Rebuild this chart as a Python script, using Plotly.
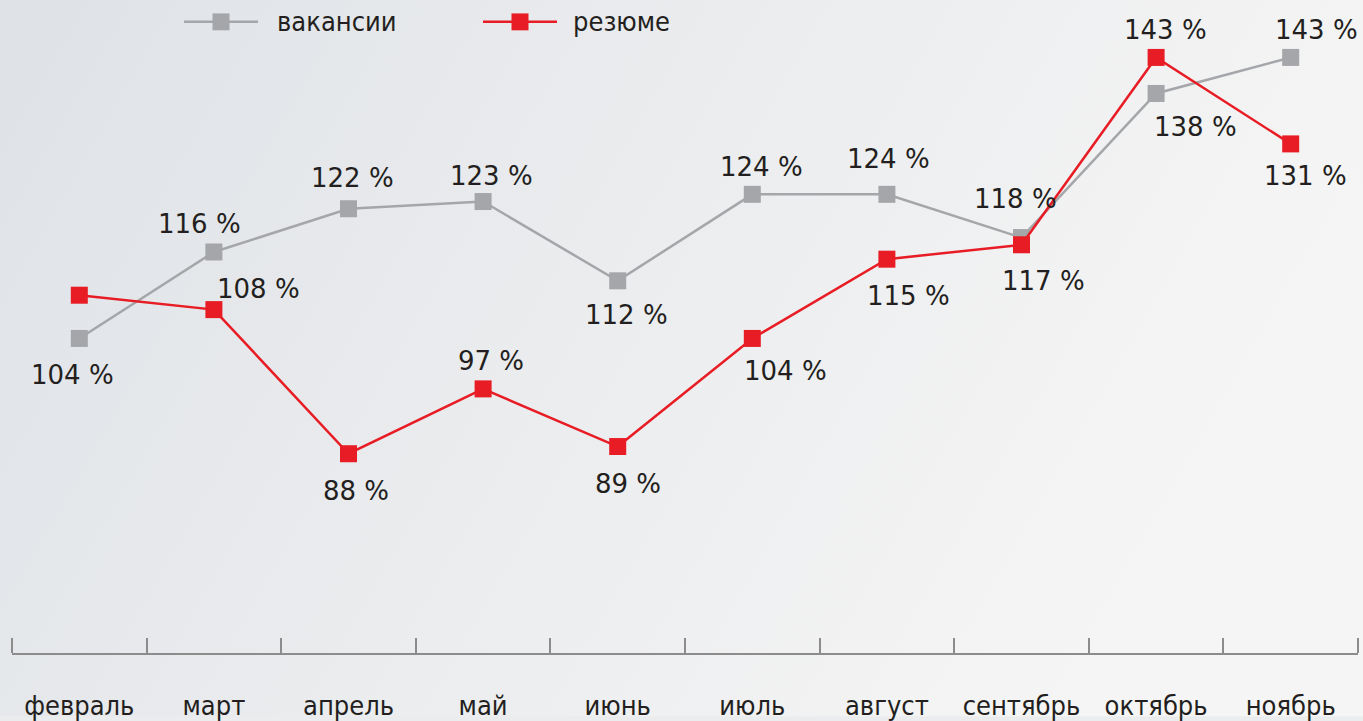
import base64
import plotly.graph_objects as go

months = ["февраль", "март", "апрель", "май", "июнь", "июль", "август", "сентябрь", "октябрь", "ноябрь"]
vacancies = [104, 116, 122, 123, 112, 124, 124, 118, 138, 143]
resumes = [110, 108, 88, 97, 89, 104, 115, 117, 143, 131]
show_resume_label = [False, True, True, True, True, True, True, True, True, True]
series_names = ["вакансии", "резюме"]

# label offsets (pixels) relative to points: (xshift, yshift)
vac_offsets = [(-7, -37), (-14, 28), (4, 31), (8, 26), (9, -34), (9, 27), (2, 35), (-6, 39), (39, -34), (26, 27)]
res_offsets = [(0, 0), (45, 21), (7, -37), (8, 28), (10, -37), (33, -33), (22, -37), (22, -36), (9, 27), (15, -32)]

GRAY = "#a5a6a9"
RED = "#e81c24"
TEXT = "#231f20"
AXIS = "#8c8c8c"
W, H = 1363, 721
ML, MR, MT, MB = 12, 5, 0, 64
PW, PH = W - ML - MR, H - MT - MB

fig = go.Figure()
fig.add_trace(go.Scatter(x=months, y=vacancies, mode="lines+markers", name=series_names[0],
                         line=dict(color=GRAY, width=2.5),
                         marker=dict(symbol="square", size=17, color=GRAY), showlegend=False))
fig.add_trace(go.Scatter(x=months, y=resumes, mode="lines+markers", name=series_names[1],
                         line=dict(color=RED, width=2.5),
                         marker=dict(symbol="square", size=17, color=RED), showlegend=False))

annotations = []
for m, v, (dx, dy) in zip(months, vacancies, vac_offsets):
    annotations.append(dict(x=m, y=v, text=f"{v} %", showarrow=False, xshift=dx, yshift=dy,
                            font=dict(family="DejaVu Sans", size=26, color=TEXT)))
for m, v, (dx, dy), s in zip(months, resumes, res_offsets, show_resume_label):
    if s:
        annotations.append(dict(x=m, y=v, text=f"{v} %", showarrow=False, xshift=dx, yshift=dy,
                                font=dict(family="DejaVu Sans", size=26, color=TEXT)))


def px(x):
    return (x - ML) / PW


def py(y):
    return (H - MB - y) / PH


shapes = []
# end ticks of the axis (at outer category boundaries)
for xe in (0, 1):
    shapes.append(dict(type="line", xref="paper", yref="paper", x0=xe, x1=xe, y0=0, y1=15 / PH,
                       line=dict(color=AXIS, width=2)))

# manual legend
legend_items = [(series_names[0], GRAY, 184, 258, 221, 275), (series_names[1], RED, 483, 557, 520, 571)]
for name, col, x0, x1, xc, xt in legend_items:
    shapes.append(dict(type="line", xref="paper", yref="paper", x0=px(x0), x1=px(x1), y0=py(22), y1=py(22),
                       line=dict(color=col, width=2.5)))
    shapes.append(dict(type="rect", xref="paper", yref="paper", x0=px(xc - 8.5), x1=px(xc + 8.5),
                       y0=py(22 - 8.5), y1=py(22 + 8.5), fillcolor=col, line=dict(width=0)))
    annotations.append(dict(xref="paper", yref="paper", x=px(xt), y=py(22), xanchor="left", yanchor="middle",
                            text=name, showarrow=False,
                            font=dict(family="DejaVu Sans Condensed", size=27, color=TEXT)))

svg = f'''<svg xmlns="http://www.w3.org/2000/svg" width="{W}" height="{H}" viewBox="0 0 {W} {H}" preserveAspectRatio="none">
<defs><linearGradient id="g" x1="0" y1="0" x2="1" y2="0.3">
<stop offset="0" stop-color="#dee2e7"/><stop offset="0.5" stop-color="#ebecee"/><stop offset="1" stop-color="#f5f5f5"/>
</linearGradient></defs><rect width="{W}" height="{H}" fill="url(#g)"/></svg>'''
src = "data:image/svg+xml;base64," + base64.b64encode(svg.encode()).decode()

fig.update_layout(
    width=W, height=H,
    margin=dict(l=ML, r=MR, t=MT, b=MB),
    paper_bgcolor="#ebeced",
    plot_bgcolor="rgba(0,0,0,0)",
    annotations=annotations,
    shapes=shapes,
    images=[dict(source=src, xref="paper", yref="paper", x=-ML / PW, y=1 + MT / PH,
                 sizex=W / PW, sizey=H / PH, sizing="stretch", layer="below", xanchor="left", yanchor="top")],
    xaxis=dict(type="category", range=[-0.5, 9.5], showline=True, linecolor=AXIS, linewidth=2,
               ticks="inside", tickson="boundaries", ticklen=15, tickcolor=AXIS, tickwidth=2,
               showgrid=False, zeroline=False, ticklabelstandoff=28,
               tickfont=dict(family="DejaVu Sans Condensed", size=27, color=TEXT), fixedrange=True),
    yaxis=dict(range=[60.345, 150.97], visible=False, fixedrange=True),
)

fig.write_html("out.html", config={"displayModeBar": False},
               post_script="document.body.style.margin='0';document.body.style.overflow='hidden';")
